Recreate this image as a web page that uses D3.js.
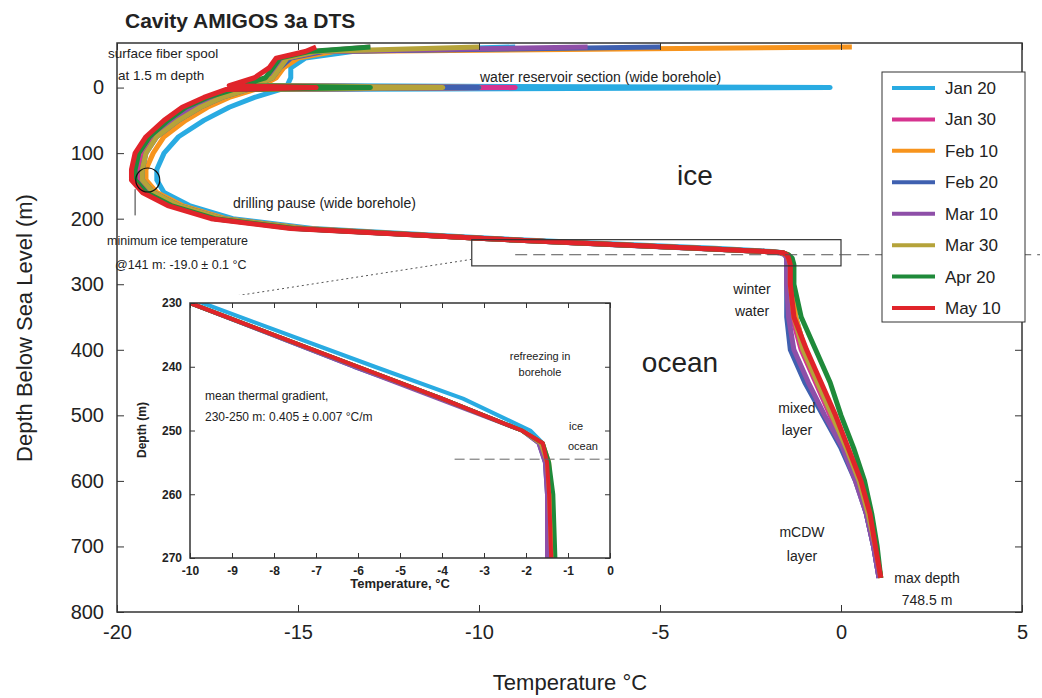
<!DOCTYPE html>
<html><head><meta charset="utf-8">
<script src="https://cdn.jsdelivr.net/npm/d3@7"></script>
<style>body{margin:0;background:#fff;font-family:"Liberation Sans",Arial,sans-serif}</style>
</head><body><div id="chart"></div>
<script>
const depths = [-62,-55,-45,-30,-15,-3,0,3,15,30,50,75,100,125,141,160,180,200,215,230,240,245,250,252,255,260,270,300,350,400,450,500,550,600,650,700,748];
const seriesNames = ["Jan 20","Jan 30","Feb 10","Feb 20","Mar 10","Mar 30","Apr 20","May 10"];
const colors = ["#29abe2","#d6338f","#f7941d","#3f60b0","#8e4fa8","#b5a33a","#1f8a3a","#e0242a"];
const jan20 = [-9,-13.5,-14.8,-15.2,-15.2,-15.3,-0.3,-15.5,-16.2,-16.9,-17.6,-18.3,-18.7,-18.9,-18.9,-18.7,-18.0,-16.8,-14.6,-9.7,-5.6,-3.5,-1.9,-1.6,-1.5,-1.45,-1.45,-1.4,-1.25,-1.0,-0.6,-0.25,0.15,0.45,0.7,0.9,1.05];
const jan30 = [-13,-14.5,-15.3,-15.6,-15.8,-16.3,-9,-16.5,-17.2,-17.8,-18.4,-19.0,-19.3,-19.4,-19.4,-19.1,-18.4,-17.2,-15.0,-10,-6,-4,-2.1,-1.6,-1.5,-1.5,-1.45,-1.45,-1.35,-1.1,-0.7,-0.3,0.1,0.45,0.7,0.9,1.05];
const feb10 = [0.3,-14,-15,-15.4,-15.6,-16.0,-10,-16.2,-16.9,-17.5,-18.1,-18.7,-19.0,-19.2,-19.2,-18.9,-18.2,-17.0,-14.8,-10,-6,-4,-2.1,-1.6,-1.45,-1.4,-1.35,-1.35,-1.25,-1.0,-0.6,-0.2,0.15,0.5,0.75,0.95,1.1];
const feb20 = [-5,-14.3,-15.2,-15.5,-15.7,-16.2,-10,-16.4,-17.1,-17.7,-18.3,-18.9,-19.2,-19.3,-19.3,-19.0,-18.3,-17.1,-14.9,-10,-6.1,-4,-2.1,-1.7,-1.55,-1.5,-1.5,-1.5,-1.5,-1.4,-1.0,-0.5,0,0.4,0.7,0.9,1.05];
const mar10 = [-7,-14.4,-15.3,-15.6,-15.8,-16.4,-12,-16.6,-17.3,-17.9,-18.5,-19.1,-19.4,-19.5,-19.5,-19.2,-18.5,-17.3,-15.0,-10,-6.1,-4.1,-2.1,-1.7,-1.55,-1.5,-1.5,-1.5,-1.45,-1.3,-0.9,-0.45,0.05,0.4,0.7,0.9,1.05];
const mar30 = [-10,-14.5,-15.3,-15.5,-15.7,-16.2,-11,-16.4,-17.1,-17.7,-18.3,-18.9,-19.2,-19.3,-19.3,-19.0,-18.3,-17.1,-14.9,-10,-6,-4,-2.1,-1.65,-1.5,-1.45,-1.4,-1.4,-1.3,-1.05,-0.65,-0.25,0.15,0.5,0.75,0.95,1.1];
const apr20 = [-13,-14.7,-15.5,-15.7,-15.9,-16.6,-13,-16.8,-17.5,-18.1,-18.6,-19.1,-19.4,-19.5,-19.5,-19.2,-18.5,-17.3,-15.1,-10,-6,-4,-2.1,-1.6,-1.45,-1.35,-1.3,-1.3,-1.1,-0.7,-0.3,0,0.35,0.65,0.85,1.0,1.1];
const may10 = [-14.5,-14.8,-15.6,-15.8,-16.2,-16.9,-14.5,-17.0,-17.6,-18.2,-18.7,-19.2,-19.5,-19.6,-19.6,-19.3,-18.6,-17.4,-15.2,-10,-6,-4,-2.1,-1.6,-1.5,-1.45,-1.4,-1.4,-1.3,-0.95,-0.55,-0.15,0.2,0.55,0.8,0.95,1.1];
const temps = [jan20,jan30,feb10,feb20,mar10,mar30,apr20,may10];
const mainXTicks = [-20,-15,-10,-5,0,5];
const mainYTicks = [0,100,200,300,400,500,600,700,800];
const insetXTicks = [-10,-9,-8,-7,-6,-5,-4,-3,-2,-1,0];
const insetYTicks = [230,240,250,260,270];

const W = 1042, H = 698;
const svg = d3.select("#chart").append("svg").attr("width", W).attr("height", H);
const font = '"Liberation Sans",Arial,sans-serif';

const x = d3.scaleLinear().domain([-20,5]).range([117,1022]);
const y = d3.scaleLinear().domain([-68,800]).range([43,612]);
const ix = d3.scaleLinear().domain([-10,0]).range([190,610]);
const iy = d3.scaleLinear().domain([230,270]).range([303,558]);

const defs = svg.append("defs");
defs.append("clipPath").attr("id","cm").append("rect").attr("x",117).attr("y",43).attr("width",905).attr("height",569);
defs.append("clipPath").attr("id","ci").append("rect").attr("x",190).attr("y",303).attr("width",420).attr("height",255);

function drawLines(g, xs, ys, clip, w) {
  const line = d3.line().x(d => xs(d[1])).y(d => ys(d[0]));
  const lg = g.append("g").attr("clip-path", `url(#${clip})`);
  temps.forEach((t, i) => {
    lg.append("path").datum(depths.map((d, j) => [d, t[j]]))
      .attr("d", line).attr("fill","none").attr("stroke", colors[i])
      .attr("stroke-width", w).attr("stroke-linejoin","round");
  });
}

function frame(g, xs, ys, xt, yt, fs, tl, pad) {
  const [x0,x1] = xs.range(), [y0,y1] = ys.range();
  const fmt = d => String(d);
  g.append("g").attr("transform",`translate(0,${y1})`)
    .call(d3.axisBottom(xs).tickValues(xt).tickSize(-tl).tickPadding(pad + tl).tickFormat(fmt));
  g.append("g").attr("transform",`translate(${x0},0)`)
    .call(d3.axisLeft(ys).tickValues(yt).tickSize(-tl).tickPadding(pad + tl).tickFormat(fmt));
  g.append("g").attr("transform",`translate(0,${y0})`).call(d3.axisTop(xs).tickValues(xt).tickSize(-tl).tickFormat(""));
  g.append("g").attr("transform",`translate(${x1},0)`).call(d3.axisRight(ys).tickValues(yt).tickSize(-tl).tickFormat(""));
  g.selectAll(".domain").remove();
  g.selectAll("text").attr("font-size", fs).attr("font-family", font).attr("fill","#222");
  g.selectAll(".tick line").attr("stroke","#333");
  g.append("rect").attr("x",x0).attr("y",y0).attr("width",x1-x0).attr("height",y1-y0)
    .attr("fill","none").attr("stroke","#333").attr("stroke-width",1.5);
}

// main panel
const gm = svg.append("g");
drawLines(gm, x, y, "cm", 5);
frame(gm, x, y, mainXTicks, mainYTicks, 20, 7, 6);

// annotations main
const txt = (t, px, py, fs, anchor="start", weight="normal") =>
  svg.append("text").attr("x",px).attr("y",py).attr("font-size",fs).attr("font-family",font)
    .attr("text-anchor",anchor).attr("font-weight",weight).attr("fill","#222").text(t);
txt("Cavity AMIGOS 3a DTS", 125, 28, 21, "start", "bold");
txt("Temperature °C", 570, 690, 22, "middle");
svg.append("text").attr("transform","translate(32,328) rotate(-90)").attr("text-anchor","middle")
  .attr("font-size",22).attr("font-family",font).attr("fill","#222").text("Depth Below Sea Level (m)");
txt("surface fiber spool", 108, 58, 13.5);
txt("at 1.5 m depth", 118, 80, 13.5);
txt("water reservoir section (wide borehole)", 480, 82, 14);
txt("drilling pause (wide borehole)", 233, 208, 14);
txt("minimum ice temperature", 107, 245, 12.5);
txt("@141 m: -19.0 ± 0.1 °C", 115, 269, 12.5);
txt("ice", 695, 185, 28, "middle");
txt("ocean", 680, 372, 28, "middle");
txt("winter", 752, 294, 14, "middle");
txt("water", 752, 316, 14, "middle");
txt("mixed", 797, 413, 14, "middle");
txt("layer", 797, 435, 14, "middle");
txt("mCDW", 802, 537, 14, "middle");
txt("layer", 802, 561, 14, "middle");
txt("max depth", 927, 583, 14, "middle");
txt("748.5 m", 927, 605, 14, "middle");
svg.append("circle").attr("cx",x(-19.15)).attr("cy",y(141)).attr("r",12).attr("fill","none").attr("stroke","#111").attr("stroke-width",1.2);
svg.append("line").attr("x1",x(-19.5)).attr("x2",x(-19.5)).attr("y1",y(155)).attr("y2",y(195)).attr("stroke","#333");
svg.append("rect").attr("x",x(-10.2)).attr("y",y(232)).attr("width",x(0)-x(-10.2)).attr("height",y(272)-y(232))
  .attr("fill","none").attr("stroke","#333").attr("stroke-width",1.2);
svg.append("line").attr("x1",x(-9)).attr("x2",1040).attr("y1",y(255)).attr("y2",y(255))
  .attr("stroke","#555").attr("stroke-dasharray","12,6");
svg.append("line").attr("x1",x(-10.2)).attr("y1",y(262)).attr("x2",ix(-10)).attr("y2",iy(230))
  .attr("stroke","#555").attr("stroke-dasharray","2,3");

// inset
const gi = svg.append("g");
gi.append("rect").attr("x",150).attr("y",295).attr("width",467).attr("height",296).attr("fill","#fff");
drawLines(gi, ix, iy, "ci", 4);
frame(gi, ix, iy, insetXTicks, insetYTicks, 12, 5, 3);
gi.selectAll("text").attr("font-weight","bold");
gi.append("line").attr("x1",ix(-3.7)).attr("x2",ix(0)).attr("y1",iy(254.5)).attr("y2",iy(254.5))
  .attr("stroke","#666").attr("stroke-dasharray","10,5");
txt("refreezing in", 540, 360, 11, "middle");
txt("borehole", 540, 376, 11, "middle");
txt("mean thermal gradient,", 205, 400, 12);
txt("230-250 m: 0.405 ± 0.007 °C/m", 205, 421, 12);
txt("ice", 576, 430, 11, "middle");
txt("ocean", 583, 450, 11, "middle");
txt("Temperature, °C", 400, 588, 13, "middle", "bold");
svg.append("text").attr("transform","translate(146,430) rotate(-90)").attr("text-anchor","middle")
  .attr("font-size",12).attr("font-weight","bold").attr("font-family",font).attr("fill","#222").text("Depth (m)");

// legend
const lg = svg.append("g");
lg.append("rect").attr("x",882).attr("y",72).attr("width",143).attr("height",250).attr("fill","#fff").attr("stroke","#333");
const ly = d3.scalePoint().domain(seriesNames).range([88,308]);
seriesNames.forEach((n,i) => {
  lg.append("line").attr("x1",892).attr("x2",935).attr("y1",ly(n)).attr("y2",ly(n)).attr("stroke",colors[i]).attr("stroke-width",4);
  lg.append("text").attr("x",945).attr("y",ly(n)+6).attr("font-size",17).attr("font-family",font).attr("fill","#222").text(n);
});
</script></body></html>
